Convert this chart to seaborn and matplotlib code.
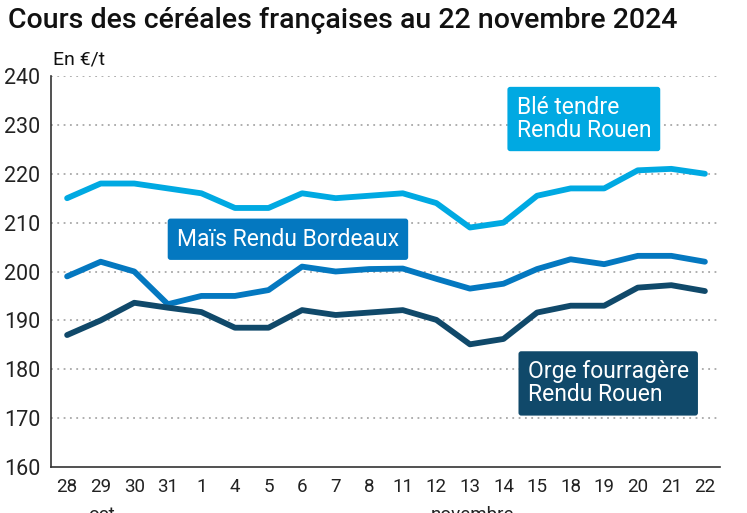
import numpy as np
import pandas as pd
import matplotlib
matplotlib.use("Agg")
import matplotlib.pyplot as plt
import seaborn as sns

# Données (€/t)
jours = ["28", "29", "30", "31", "1", "4", "5", "6", "7", "8",
         "11", "12", "13", "14", "15", "18", "19", "20", "21", "22"]
ble = [215, 218, 218, 217, 216, 213, 213, 216, 215, 215.5,
       216, 214, 209, 210, 215.5, 217, 217, 220.7, 221, 220]
mais = [199, 202, 200, 193.3, 195, 195, 196.2, 201, 200, 200.5,
        200.6, 198.5, 196.5, 197.5, 200.5, 202.5, 201.5, 203.2, 203.2, 202]
orge = [187, 190, 193.6, 192.6, 191.7, 188.5, 188.5, 192.1, 191.1, 191.6,
        192.1, 190.1, 185.1, 186.2, 191.6, 193, 193, 196.7, 197.2, 196]
series = ["Blé tendre\nRendu Rouen", "Maïs Rendu Bordeaux", "Orge fourragère\nRendu Rouen"]
couleurs = ["#00A9E2", "#0478C0", "#10496A"]

df = pd.DataFrame({
    "pos": list(range(len(jours))) * 3,
    "prix": ble + mais + orge,
    "cereale": [series[0]] * len(jours) + [series[1]] * len(jours) + [series[2]] * len(jours),
})

sns.set_style("white")
plt.rcParams["font.family"] = ["Roboto", "DejaVu Sans"]

fig = plt.figure(figsize=(7.47, 5.13), dpi=100)
ax = fig.add_axes([51 / 747, 46 / 513, 669 / 747, 391 / 513])

sns.lineplot(data=df, x="pos", y="prix", hue="cereale", hue_order=series,
             palette=dict(zip(series, couleurs)), linewidth=4.2, legend=False,
             ax=ax, solid_capstyle="round", solid_joinstyle="round")

ax.set_xlim(-0.48, 19.45)
ax.set_ylim(160, 240)
ax.set_yticks(np.arange(160, 241, 10))
ax.set_xticks(range(len(jours)))
ax.set_xticklabels(jours)
ax.tick_params(axis="both", length=0, labelsize=13.5, colors="#222222")
ax.tick_params(axis="x", pad=8)
ax.tick_params(axis="y", pad=7.5)
for lab in ax.get_yticklabels():
    lab.set_fontsize(15.5)
ax.set_xlabel("")
ax.set_ylabel("")

for v in range(170, 241, 10):
    ax.axhline(v, color="#a8a8a8", linewidth=1.3, linestyle=(0, (1, 2.5)), zorder=0)

for s in ["top", "right"]:
    ax.spines[s].set_visible(False)
ax.spines["left"].set_color("#333333")
ax.spines["bottom"].set_color("#333333")
ax.spines["left"].set_linewidth(1.2)
ax.spines["bottom"].set_linewidth(1.2)

# étiquettes des séries
box = dict(boxstyle="round,pad=0.4,rounding_size=0.12", ec="none")
ax.text(13.39, 231.2, series[0], color="white", fontsize=16.5, va="center", ha="left",
        linespacing=1.0, bbox=dict(box, fc=couleurs[0]))
ax.text(3.27, 206.6, series[1], color="white", fontsize=16.5, va="center", ha="left",
        bbox=dict(box, fc=couleurs[1]))
ax.text(13.72, 177.1, series[2], color="white", fontsize=16.5, va="center", ha="left",
        linespacing=1.0, bbox=dict(box, fc=couleurs[2]))

fig.text(8 / 747, 1 - 20 / 513, "Cours des céréales françaises au 22 novembre 2024",
         fontsize=20.5, fontweight="medium", va="center", ha="left", color="#111111")
fig.text(53 / 747, 1 - 60 / 513, "En €/t", fontsize=14, va="center", ha="left", color="#111111")
fig.text(104 / 747, 1 - 506 / 513, "oct.", fontsize=13.5, va="top", ha="center", color="#222222")
fig.text(473 / 747, 1 - 506 / 513, "novembre", fontsize=13.5, va="top", ha="center", color="#222222")

fig.savefig("out.png", dpi=100)
